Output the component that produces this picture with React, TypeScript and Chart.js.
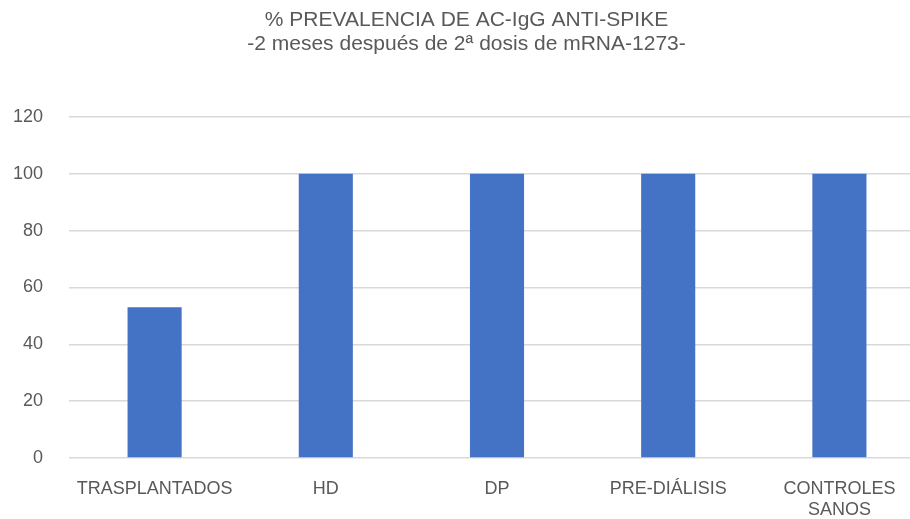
import React, { useEffect, useRef } from "react";
import { Chart, registerables } from "chart.js";

Chart.register(...registerables);

const categories: (string | string[])[] = ["TRASPLANTADOS", "HD", "DP", "PRE-DIÁLISIS", ["CONTROLES", "SANOS"]];
const values: number[] = [53, 100, 100, 100, 100];
const titleLines: string[] = ["% PREVALENCIA DE AC-IgG ANTI-SPIKE", "-2 meses después de 2ª dosis de mRNA-1273-"];

const FONT = "'Liberation Sans', Arial, Helvetica, sans-serif";
const TEXT = "#595959";

export default function App() {
  const ref = useRef<HTMLCanvasElement | null>(null);
  useEffect(() => {
    if (!ref.current) return;
    const chart = new Chart(ref.current, {
      type: "bar",
      data: {
        labels: categories,
        datasets: [
          {
            data: values,
            backgroundColor: "#4472C4",
            borderWidth: 0,
            categoryPercentage: 1,
            barPercentage: 0.316,
          },
        ],
      },
      options: {
        animation: false,
        responsive: false,
        maintainAspectRatio: false,
        layout: { padding: { left: 8, right: 5, top: 0, bottom: 0 } },
        plugins: {
          legend: { display: false },
          tooltip: { enabled: false },
          title: {
            display: true,
            text: titleLines,
            color: TEXT,
            font: { family: FONT, size: 21, weight: "normal", lineHeight: 1.14 },
            padding: { top: 8, bottom: 61 },
          },
        },
        scales: {
          x: {
            grid: { display: false, drawTicks: false },
            border: { display: false },
            ticks: {
              color: TEXT,
              font: { family: FONT, size: 18, lineHeight: 1.2 },
              padding: 20,
              maxRotation: 0,
              autoSkip: false,
            },
            afterFit: (s: any) => {
              s.height = 61;
            },
          },
          y: {
            min: 0,
            max: 120,
            grid: { color: "#d9d9d9", lineWidth: 1.5, drawTicks: false },
            border: { display: false },
            ticks: {
              stepSize: 20,
              color: TEXT,
              font: { family: FONT, size: 18 },
              padding: 26,
            },
            afterFit: (s: any) => {
              s.width = 61;
            },
          },
        },
      },
    });
    return () => chart.destroy();
  }, []);
  return (
    <div style={{ position: "fixed", left: 0, top: 0, width: 910, height: 519, overflow: "hidden", background: "#fff" }}>
      <canvas ref={ref} width={930} height={519} style={{ display: "block" }} />
    </div>
  );
}
